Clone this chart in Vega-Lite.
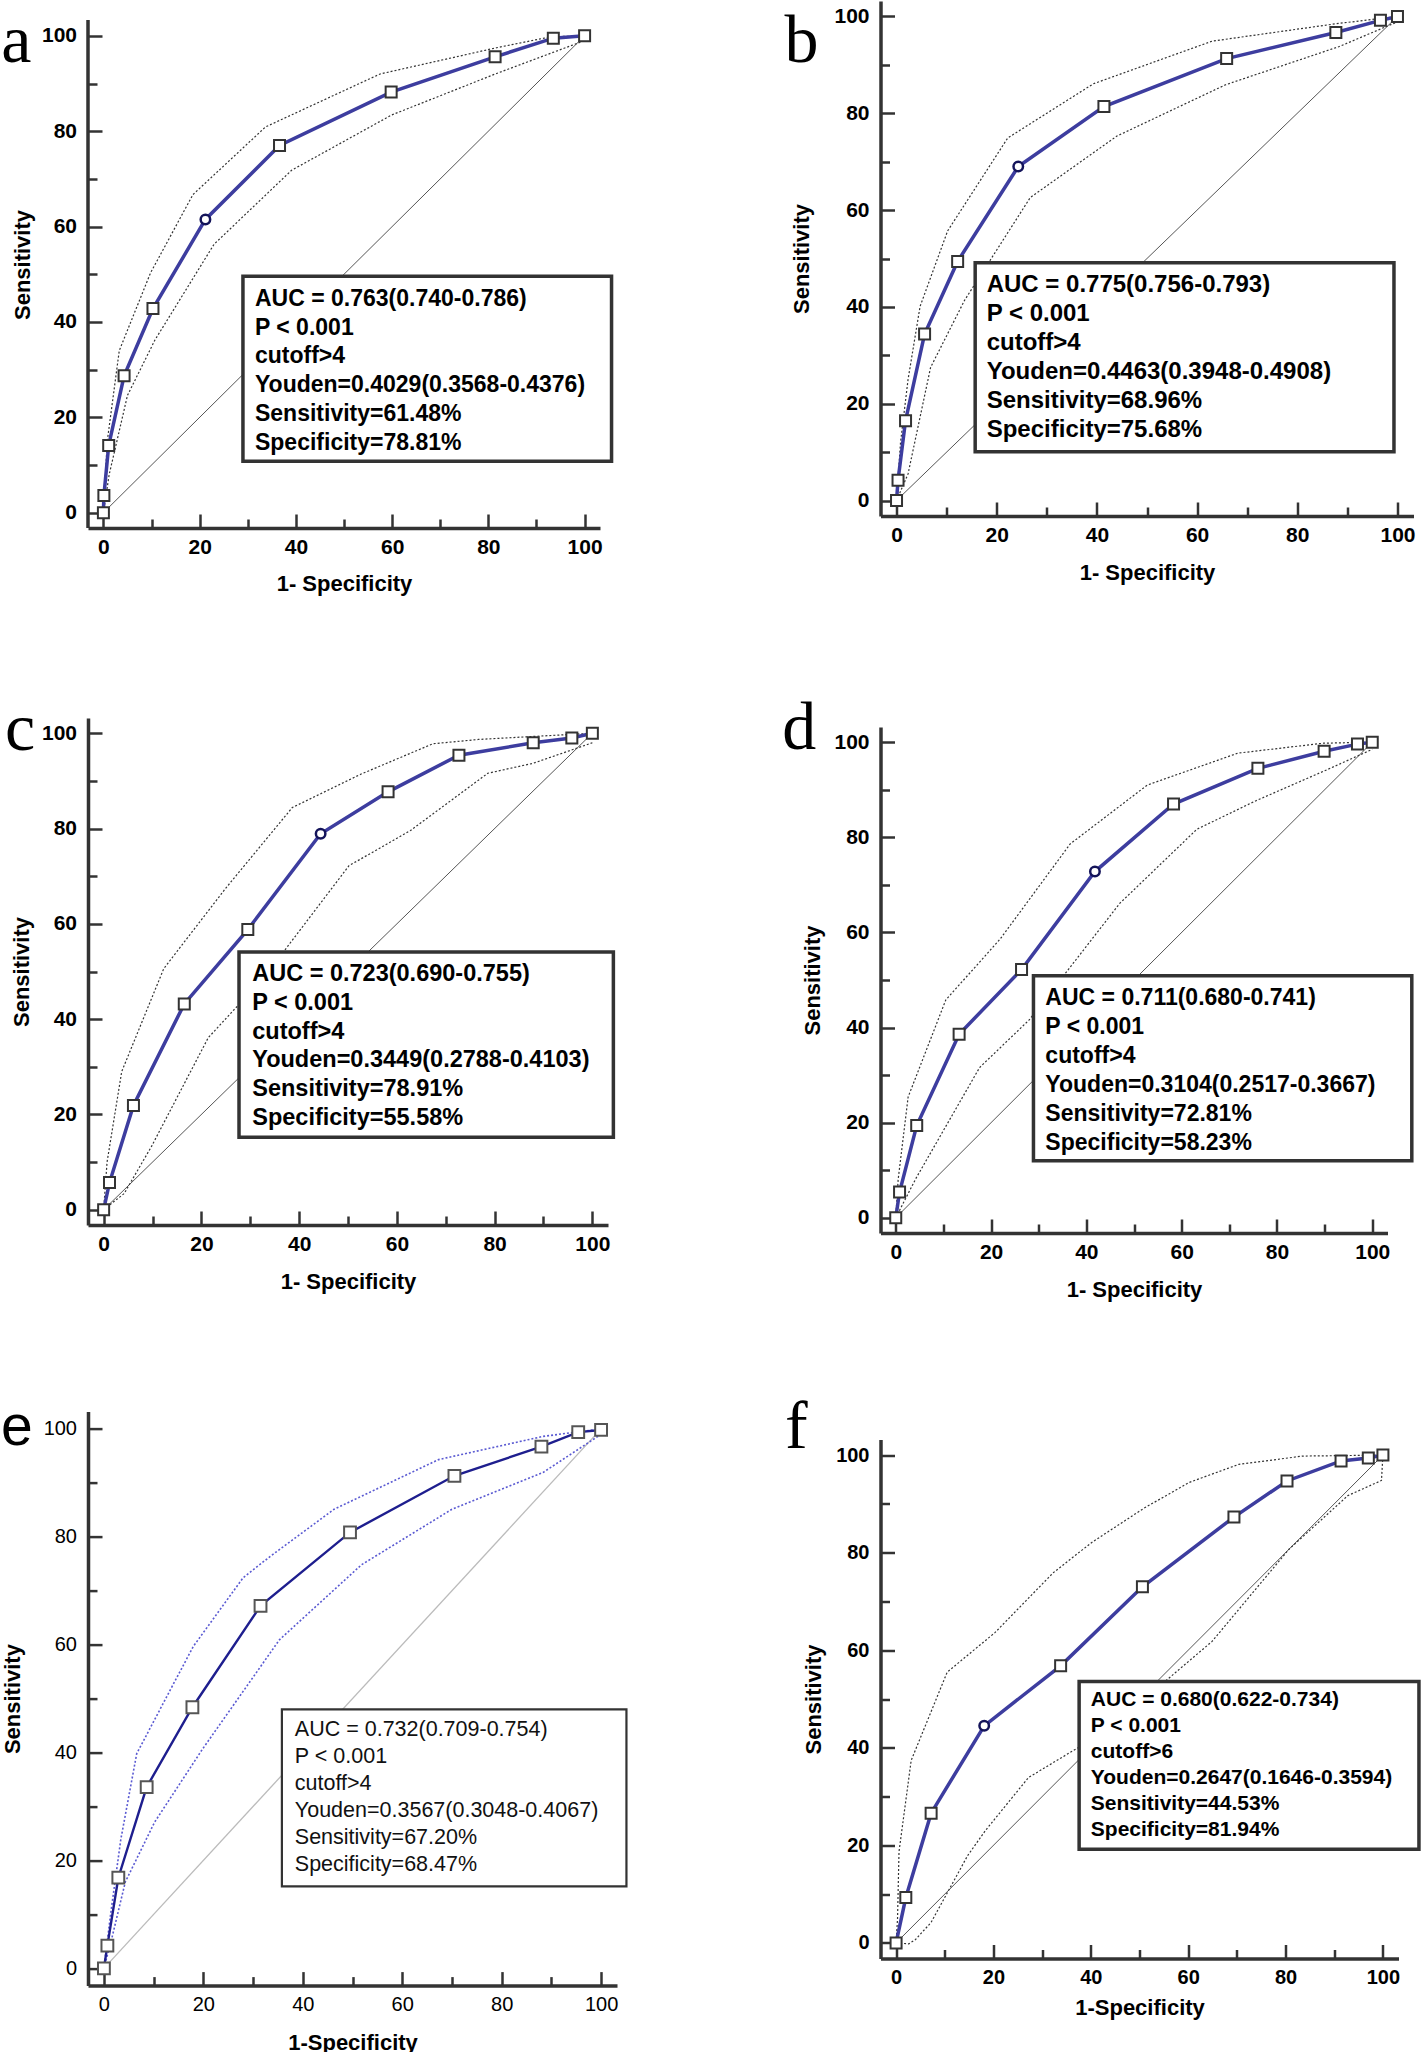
{
"$schema": "https://vega.github.io/schema/vega-lite/v6.json",
"background": "white",
"padding": {"left": 0, "top": 1, "right": 0, "bottom": 0},
"autosize": {"type": "pad"},
"config": {
  "view": {"stroke": null},
  "axis": {"grid": false, "domainColor": "#333", "domainWidth": 3.5, "tickColor": "#333", "tickWidth": 2.5, "labelColor": "#000", "titleColor": "#000", "labelFont": "Liberation Sans", "titleFont": "Liberation Sans", "labelFontWeight": "bold", "titleFontWeight": "bold", "labelFontSize": 21, "titleFontSize": 22},
  "axisX": {"labelPadding": 22.5, "titlePadding": 11.5},
  "axisY": {"labelPadding": 25.5, "titlePadding": 7}
},
"datasets": {
  "roc": [
    {"p":"a","s":"roc","x":0,"y":0},{"p":"a","s":"roc","x":0.1,"y":3.6},{"p":"a","s":"roc","x":1.1,"y":14.1},{"p":"a","s":"roc","x":4.3,"y":28.7},{"p":"a","s":"roc","x":10.3,"y":42.8},{"p":"a","s":"roc","x":21.2,"y":61.5,"c":1},{"p":"a","s":"roc","x":36.6,"y":77.0},{"p":"a","s":"roc","x":59.8,"y":88.2},{"p":"a","s":"roc","x":81.4,"y":95.6},{"p":"a","s":"roc","x":93.5,"y":99.5},{"p":"a","s":"roc","x":100,"y":100},
    {"p":"a","s":"upper","x":0,"y":0},{"p":"a","s":"upper","x":0.8,"y":15},{"p":"a","s":"upper","x":3.3,"y":34},{"p":"a","s":"upper","x":9.8,"y":50.3},{"p":"a","s":"upper","x":18.6,"y":66.7},{"p":"a","s":"upper","x":33.7,"y":80.9},{"p":"a","s":"upper","x":57.5,"y":92.0},{"p":"a","s":"upper","x":81.7,"y":97.5},{"p":"a","s":"upper","x":93,"y":99.8},{"p":"a","s":"upper","x":100,"y":100},
    {"p":"a","s":"lower","x":0,"y":0},{"p":"a","s":"lower","x":1.2,"y":8},{"p":"a","s":"lower","x":5,"y":24.6},{"p":"a","s":"lower","x":10.7,"y":36.2},{"p":"a","s":"lower","x":23,"y":56.3},{"p":"a","s":"lower","x":39.1,"y":71.8},{"p":"a","s":"lower","x":59.9,"y":83.4},{"p":"a","s":"lower","x":81.7,"y":92.1},{"p":"a","s":"lower","x":100,"y":99},
    {"p":"b","s":"roc","x":0,"y":0},{"p":"b","s":"roc","x":0.3,"y":4.2},{"p":"b","s":"roc","x":1.8,"y":16.5},{"p":"b","s":"roc","x":5.6,"y":34.4},{"p":"b","s":"roc","x":12.2,"y":49.4},{"p":"b","s":"roc","x":24.3,"y":69.0,"c":1},{"p":"b","s":"roc","x":41.4,"y":81.4},{"p":"b","s":"roc","x":65.9,"y":91.3},{"p":"b","s":"roc","x":87.7,"y":96.7},{"p":"b","s":"roc","x":96.6,"y":99.2},{"p":"b","s":"roc","x":100,"y":100},
    {"p":"b","s":"upper","x":0,"y":0},{"p":"b","s":"upper","x":0.8,"y":12},{"p":"b","s":"upper","x":2.3,"y":25},{"p":"b","s":"upper","x":4.7,"y":40.1},{"p":"b","s":"upper","x":10.2,"y":55.7},{"p":"b","s":"upper","x":22.2,"y":74.9},{"p":"b","s":"upper","x":39.3,"y":86.1},{"p":"b","s":"upper","x":63,"y":94.9},{"p":"b","s":"upper","x":87.7,"y":98.5},{"p":"b","s":"upper","x":100,"y":100},
    {"p":"b","s":"lower","x":0,"y":0},{"p":"b","s":"lower","x":2.3,"y":5.5},{"p":"b","s":"lower","x":6.8,"y":27.5},{"p":"b","s":"lower","x":13.6,"y":41.4},{"p":"b","s":"lower","x":26.7,"y":62.6},{"p":"b","s":"lower","x":44,"y":75.3},{"p":"b","s":"lower","x":65.7,"y":85.9},{"p":"b","s":"lower","x":88.4,"y":93.8},{"p":"b","s":"lower","x":100,"y":98.9},
    {"p":"c","s":"roc","x":0,"y":0},{"p":"c","s":"roc","x":1.2,"y":5.7},{"p":"c","s":"roc","x":6.1,"y":21.9},{"p":"c","s":"roc","x":16.5,"y":43.2},{"p":"c","s":"roc","x":29.5,"y":58.8},{"p":"c","s":"roc","x":44.4,"y":78.9,"c":1},{"p":"c","s":"roc","x":58.2,"y":87.7},{"p":"c","s":"roc","x":72.7,"y":95.4},{"p":"c","s":"roc","x":87.9,"y":98.0},{"p":"c","s":"roc","x":95.8,"y":99.0},{"p":"c","s":"roc","x":100,"y":100},
    {"p":"c","s":"upper","x":0,"y":0},{"p":"c","s":"upper","x":0.7,"y":10},{"p":"c","s":"upper","x":3.7,"y":29},{"p":"c","s":"upper","x":12.3,"y":50.6},{"p":"c","s":"upper","x":25,"y":67.5},{"p":"c","s":"upper","x":38.6,"y":84.4},{"p":"c","s":"upper","x":52.6,"y":91.4},{"p":"c","s":"upper","x":67.4,"y":97.8},{"p":"c","s":"upper","x":76.7,"y":98.7},{"p":"c","s":"upper","x":100,"y":100},
    {"p":"c","s":"lower","x":0,"y":0},{"p":"c","s":"lower","x":4.2,"y":3.4},{"p":"c","s":"lower","x":9.8,"y":13.3},{"p":"c","s":"lower","x":21.4,"y":36.1},{"p":"c","s":"lower","x":33,"y":49},{"p":"c","s":"lower","x":50.2,"y":72.2},{"p":"c","s":"lower","x":62.8,"y":79.6},{"p":"c","s":"lower","x":78.6,"y":91.6},{"p":"c","s":"lower","x":87.9,"y":93.7},{"p":"c","s":"lower","x":100,"y":98},
    {"p":"d","s":"roc","x":0,"y":0},{"p":"d","s":"roc","x":0.8,"y":5.4},{"p":"d","s":"roc","x":4.4,"y":19.4},{"p":"d","s":"roc","x":13.3,"y":38.6},{"p":"d","s":"roc","x":26.4,"y":52.2},{"p":"d","s":"roc","x":41.8,"y":72.8,"c":1},{"p":"d","s":"roc","x":58.3,"y":87.0},{"p":"d","s":"roc","x":76.0,"y":94.5},{"p":"d","s":"roc","x":89.9,"y":98.1},{"p":"d","s":"roc","x":96.9,"y":99.6},{"p":"d","s":"roc","x":100,"y":100},
    {"p":"d","s":"upper","x":0,"y":0},{"p":"d","s":"upper","x":0.5,"y":8},{"p":"d","s":"upper","x":2.6,"y":25.4},{"p":"d","s":"upper","x":10.5,"y":45.8},{"p":"d","s":"upper","x":21.9,"y":58.6},{"p":"d","s":"upper","x":36.6,"y":78.6},{"p":"d","s":"upper","x":52.8,"y":91},{"p":"d","s":"upper","x":71.8,"y":97.7},{"p":"d","s":"upper","x":89.8,"y":99.8},{"p":"d","s":"upper","x":100,"y":100},
    {"p":"d","s":"lower","x":0,"y":0},{"p":"d","s":"lower","x":4.3,"y":8.4},{"p":"d","s":"lower","x":17.6,"y":31.6},{"p":"d","s":"lower","x":28,"y":41.6},{"p":"d","s":"lower","x":47,"y":66.1},{"p":"d","s":"lower","x":63.2,"y":81.7},{"p":"d","s":"lower","x":75.6,"y":87.7},{"p":"d","s":"lower","x":89.8,"y":93.9},{"p":"d","s":"lower","x":100,"y":98.5},
    {"p":"e","s":"roc","x":0,"y":0},{"p":"e","s":"roc","x":0.7,"y":4.2},{"p":"e","s":"roc","x":2.9,"y":16.8},{"p":"e","s":"roc","x":8.6,"y":33.6},{"p":"e","s":"roc","x":17.8,"y":48.4},{"p":"e","s":"roc","x":31.5,"y":67.2},{"p":"e","s":"roc","x":49.5,"y":80.8},{"p":"e","s":"roc","x":70.5,"y":91.3},{"p":"e","s":"roc","x":88.0,"y":96.7},{"p":"e","s":"roc","x":95.4,"y":99.4},{"p":"e","s":"roc","x":100,"y":99.8},
    {"p":"e","s":"upper","x":0,"y":0},{"p":"e","s":"upper","x":1.4,"y":10.4},{"p":"e","s":"upper","x":3.4,"y":23.9},{"p":"e","s":"upper","x":6.6,"y":39.8},{"p":"e","s":"upper","x":13.4,"y":51.7},{"p":"e","s":"upper","x":18,"y":59.7},{"p":"e","s":"upper","x":28,"y":72.4},{"p":"e","s":"upper","x":33.5,"y":76.4},{"p":"e","s":"upper","x":46.3,"y":85.1},{"p":"e","s":"upper","x":67.3,"y":94.3},{"p":"e","s":"upper","x":88.3,"y":98.6},{"p":"e","s":"upper","x":100,"y":100},
    {"p":"e","s":"lower","x":0,"y":0},{"p":"e","s":"lower","x":1.6,"y":5.6},{"p":"e","s":"lower","x":4.3,"y":16},{"p":"e","s":"lower","x":10.2,"y":27.1},{"p":"e","s":"lower","x":19.8,"y":40.6},{"p":"e","s":"lower","x":35.3,"y":60.9},{"p":"e","s":"lower","x":51.8,"y":74.8},{"p":"e","s":"lower","x":70,"y":85.1},{"p":"e","s":"lower","x":88.3,"y":91.9},{"p":"e","s":"lower","x":100,"y":99},
    {"p":"f","s":"roc","x":0,"y":0},{"p":"f","s":"roc","x":2.0,"y":9.3},{"p":"f","s":"roc","x":7.2,"y":26.6},{"p":"f","s":"roc","x":18.1,"y":44.5,"c":1},{"p":"f","s":"roc","x":33.8,"y":56.8},{"p":"f","s":"roc","x":50.6,"y":73.0},{"p":"f","s":"roc","x":69.4,"y":87.3},{"p":"f","s":"roc","x":80.3,"y":94.7},{"p":"f","s":"roc","x":91.4,"y":98.8},{"p":"f","s":"roc","x":97.0,"y":99.4},{"p":"f","s":"roc","x":100,"y":100},
    {"p":"f","s":"upper","x":0,"y":0},{"p":"f","s":"upper","x":0.3,"y":5},{"p":"f","s":"upper","x":0.6,"y":18.7},{"p":"f","s":"upper","x":3.1,"y":37.4},{"p":"f","s":"upper","x":10.5,"y":55.5},{"p":"f","s":"upper","x":20.3,"y":63.6},{"p":"f","s":"upper","x":32.3,"y":75.9},{"p":"f","s":"upper","x":40.2,"y":82.1},{"p":"f","s":"upper","x":50.9,"y":89.1},{"p":"f","s":"upper","x":60.2,"y":94.4},{"p":"f","s":"upper","x":70.4,"y":98.1},{"p":"f","s":"upper","x":83.5,"y":99.8},{"p":"f","s":"upper","x":100,"y":100},
    {"p":"f","s":"lower","x":0,"y":0},{"p":"f","s":"lower","x":2.6,"y":-0.2},{"p":"f","s":"lower","x":4,"y":0.7},{"p":"f","s":"lower","x":7.2,"y":4.2},{"p":"f","s":"lower","x":14.7,"y":17.9},{"p":"f","s":"lower","x":18.4,"y":23.1},{"p":"f","s":"lower","x":27.2,"y":33.9},{"p":"f","s":"lower","x":37,"y":39.8},{"p":"f","s":"lower","x":46.3,"y":45.1},{"p":"f","s":"lower","x":55.6,"y":53.9},{"p":"f","s":"lower","x":64.9,"y":61.8},{"p":"f","s":"lower","x":80.7,"y":80.7},{"p":"f","s":"lower","x":92.8,"y":91.7},{"p":"f","s":"lower","x":99.7,"y":94.8},{"p":"f","s":"lower","x":100,"y":100}
  ]
},
"hconcat": [
 {"spacing": 101, "vconcat": [
  {"width": 512, "height": 527, "layer": [
    {"data":{"values":[{}]},"mark":{"type":"rule","color":"#555","strokeWidth":1},"encoding":{"x":{"datum":0,"type":"quantitative","scale":{"domain":[-3.2,103.2],"nice":false,"zero":false}},"y":{"datum":0,"type":"quantitative","scale":{"domain":[-3.2,107.3],"nice":false,"zero":false}},"x2":{"datum":100},"y2":{"datum":100}}},
    {"data":{"values":[{}]},"mark":{"type":"rule","color":"#333","strokeWidth":3.5},"encoding":{"x":{"datum":-3.2,"type":"quantitative","scale":{"domain":[-3.2,103.2],"nice":false,"zero":false}},"y":{"datum":-3.2,"type":"quantitative","scale":{"domain":[-3.2,107.3],"nice":false,"zero":false}},"y2":{"datum":103.3}}},
    {"data":{"name":"roc"},"transform":[{"filter":"datum.p==='a' && datum.s!=='roc'"}],"mark":{"type":"line","color":"#333","strokeWidth":1.2,"strokeDash":[2,2]},"encoding":{"x":{"field":"x","type":"quantitative","scale":{"domain":[-3.2,103.2],"nice":false,"zero":false},"axis":{"title":"1- Specificity","titlePadding":10.5,"values":[0,5,10,15,20,25,30,35,40,45,50,55,60,65,70,75,80,85,90,95,100],"labelExpr":"datum.value % 20 === 0 ? datum.label : ''","tickSize":{"condition":{"test":"datum.value % 20 === 0","value":-14},"value":-9},"labelOverlap":false,"labelFlush":false}},"y":{"field":"y","type":"quantitative","scale":{"domain":[-3.2,107.3],"nice":false,"zero":false},"axis":{"title":"Sensitivity","titlePadding":6.5,"domain":false,"values":[0,5,10,15,20,25,30,35,40,45,50,55,60,65,70,75,80,85,90,95,100],"labelExpr":"datum.value % 20 === 0 ? datum.label : ''","tickSize":{"condition":{"test":"datum.value % 20 === 0","value":-14},"value":-9},"labelOverlap":false,"labelFlush":false}},"detail":{"field":"s"}}},
    {"data":{"name":"roc"},"transform":[{"filter":"datum.p==='a' && datum.s==='roc'"}],"mark":{"type":"line","color":"#3d3d9f","strokeWidth":3.5},"encoding":{"x":{"field":"x","type":"quantitative","scale":{"domain":[-3.2,103.2],"nice":false,"zero":false}},"y":{"field":"y","type":"quantitative","scale":{"domain":[-3.2,107.3],"nice":false,"zero":false}}}},
    {"data":{"name":"roc"},"transform":[{"filter":"datum.p==='a' && datum.s==='roc' && !datum.c"}],"mark":{"type":"point","shape":"square","size":121,"filled":true,"fill":"white","stroke":"#333","strokeWidth":2,"opacity":1},"encoding":{"x":{"field":"x","type":"quantitative","scale":{"domain":[-3.2,103.2],"nice":false,"zero":false}},"y":{"field":"y","type":"quantitative","scale":{"domain":[-3.2,107.3],"nice":false,"zero":false}}}},
    {"data":{"name":"roc"},"transform":[{"filter":"datum.p==='a' && datum.c===1"}],"mark":{"type":"point","shape":"circle","size":90,"filled":true,"fill":"white","stroke":"#14145a","strokeWidth":2.5,"opacity":1},"encoding":{"x":{"field":"x","type":"quantitative","scale":{"domain":[-3.2,103.2],"nice":false,"zero":false}},"y":{"field":"y","type":"quantitative","scale":{"domain":[-3.2,107.3],"nice":false,"zero":false}}}},
    {"data":{"values":[{}]},"mark":{"type":"rect","fill":"white","stroke":"#333","strokeWidth":3.5},"encoding":{"x":{"datum":29.0,"type":"quantitative","scale":{"domain":[-3.2,103.2],"nice":false,"zero":false}},"x2":{"datum":105.6},"y":{"datum":49.6,"type":"quantitative","scale":{"domain":[-3.2,107.3],"nice":false,"zero":false}},"y2":{"datum":10.8}}},
    {"data":{"values":[{}]},"mark":{"type":"text","align":"left","baseline":"alphabetic","font":"Liberation Sans","fontWeight":"bold","fontSize":23,"lineHeight":28.8,"color":"#000"},"encoding":{"x":{"datum":31.5,"type":"quantitative","scale":{"domain":[-3.2,103.2],"nice":false,"zero":false}},"y":{"datum":43.4,"type":"quantitative","scale":{"domain":[-3.2,107.3],"nice":false,"zero":false}},"text":{"value":["AUC = 0.763(0.740-0.786)","P < 0.001","cutoff>4","Youden=0.4029(0.3568-0.4376)","Sensitivity=61.48%","Specificity=78.81%"]}}},
    {"data":{"values":[{}]},"mark":{"type":"text","align":"left","baseline":"alphabetic","font":"Liberation Serif","fontSize":68,"color":"#000"},"encoding":{"x":{"datum":-21.25,"type":"quantitative","scale":{"domain":[-3.2,103.2],"nice":false,"zero":false}},"y":{"datum":94.5,"type":"quantitative","scale":{"domain":[-3.2,107.3],"nice":false,"zero":false}},"text":{"value":"a"}}}
  ]},
  {"spacing": 106.6, "vconcat": [
   {"width": 520, "height": 507, "layer": [
    {"data":{"values":[{}]},"mark":{"type":"rule","color":"#555","strokeWidth":1},"encoding":{"x":{"datum":0,"type":"quantitative","scale":{"domain":[-3.2,103.2],"nice":false,"zero":false}},"y":{"datum":0,"type":"quantitative","scale":{"domain":[-3.2,103.2],"nice":false,"zero":false}},"x2":{"datum":100},"y2":{"datum":100}}},
    {"data":{"name":"roc"},"transform":[{"filter":"datum.p==='c' && datum.s!=='roc'"}],"mark":{"type":"line","color":"#333","strokeWidth":1.2,"strokeDash":[2,2]},"encoding":{"x":{"field":"x","type":"quantitative","scale":{"domain":[-3.2,103.2],"nice":false,"zero":false},"axis":{"title":"1- Specificity","values":[0,5,10,15,20,25,30,35,40,45,50,55,60,65,70,75,80,85,90,95,100],"labelExpr":"datum.value % 20 === 0 ? datum.label : ''","tickSize":{"condition":{"test":"datum.value % 20 === 0","value":-14},"value":-9},"labelOverlap":false,"labelFlush":false}},"y":{"field":"y","type":"quantitative","scale":{"domain":[-3.2,103.2],"nice":false,"zero":false},"axis":{"title":"Sensitivity","titlePadding":7.5,"values":[0,5,10,15,20,25,30,35,40,45,50,55,60,65,70,75,80,85,90,95,100],"labelExpr":"datum.value % 20 === 0 ? datum.label : ''","tickSize":{"condition":{"test":"datum.value % 20 === 0","value":-14},"value":-9},"labelOverlap":false,"labelFlush":false}},"detail":{"field":"s"}}},
    {"data":{"name":"roc"},"transform":[{"filter":"datum.p==='c' && datum.s==='roc'"}],"mark":{"type":"line","color":"#3d3d9f","strokeWidth":3.5},"encoding":{"x":{"field":"x","type":"quantitative","scale":{"domain":[-3.2,103.2],"nice":false,"zero":false}},"y":{"field":"y","type":"quantitative","scale":{"domain":[-3.2,103.2],"nice":false,"zero":false}}}},
    {"data":{"name":"roc"},"transform":[{"filter":"datum.p==='c' && datum.s==='roc' && !datum.c"}],"mark":{"type":"point","shape":"square","size":121,"filled":true,"fill":"white","stroke":"#333","strokeWidth":2,"opacity":1},"encoding":{"x":{"field":"x","type":"quantitative","scale":{"domain":[-3.2,103.2],"nice":false,"zero":false}},"y":{"field":"y","type":"quantitative","scale":{"domain":[-3.2,103.2],"nice":false,"zero":false}}}},
    {"data":{"name":"roc"},"transform":[{"filter":"datum.p==='c' && datum.c===1"}],"mark":{"type":"point","shape":"circle","size":90,"filled":true,"fill":"white","stroke":"#14145a","strokeWidth":2.5,"opacity":1},"encoding":{"x":{"field":"x","type":"quantitative","scale":{"domain":[-3.2,103.2],"nice":false,"zero":false}},"y":{"field":"y","type":"quantitative","scale":{"domain":[-3.2,103.2],"nice":false,"zero":false}}}},
    {"data":{"values":[{}]},"mark":{"type":"rect","fill":"white","stroke":"#333","strokeWidth":3.5},"encoding":{"x":{"datum":27.7,"type":"quantitative","scale":{"domain":[-3.2,103.2],"nice":false,"zero":false}},"x2":{"datum":104.3},"y":{"datum":54.1,"type":"quantitative","scale":{"domain":[-3.2,103.2],"nice":false,"zero":false}},"y2":{"datum":15.2}}},
    {"data":{"values":[{}]},"mark":{"type":"text","align":"left","baseline":"alphabetic","font":"Liberation Sans","fontWeight":"bold","fontSize":23.5,"lineHeight":28.8,"color":"#000"},"encoding":{"x":{"datum":30.4,"type":"quantitative","scale":{"domain":[-3.2,103.2],"nice":false,"zero":false}},"y":{"datum":48.0,"type":"quantitative","scale":{"domain":[-3.2,103.2],"nice":false,"zero":false}},"text":{"value":["AUC = 0.723(0.690-0.755)","P < 0.001","cutoff>4","Youden=0.3449(0.2788-0.4103)","Sensitivity=78.91%","Specificity=55.58%"]}}},
    {"data":{"values":[{}]},"mark":{"type":"text","align":"left","baseline":"alphabetic","font":"Liberation Serif","fontSize":68,"color":"#000"},"encoding":{"x":{"datum":-20.2,"type":"quantitative","scale":{"domain":[-3.2,103.2],"nice":false,"zero":false}},"y":{"datum":96.5,"type":"quantitative","scale":{"domain":[-3.2,103.2],"nice":false,"zero":false}},"text":{"value":"c"}}}
   ]},
   {"width": 529, "height": 574, "layer": [
    {"data":{"values":[{}]},"mark":{"type":"rule","color":"#bbbbbb","strokeWidth":1.3},"encoding":{"x":{"datum":0,"type":"quantitative","scale":{"domain":[-3.2,103.2],"nice":false,"zero":false}},"y":{"datum":0,"type":"quantitative","scale":{"domain":[-3.2,103.2],"nice":false,"zero":false}},"x2":{"datum":100},"y2":{"datum":100}}},
    {"data":{"name":"roc"},"transform":[{"filter":"datum.p==='e' && datum.s!=='roc'"}],"mark":{"type":"line","color":"#5a5ad2","strokeWidth":1.6,"strokeDash":[2,2]},"encoding":{"x":{"field":"x","type":"quantitative","scale":{"domain":[-3.2,103.2],"nice":false,"zero":false},"axis":{"title":"1-Specificity","titlePadding":13,"labelFontWeight":"normal","labelFontSize":20,"values":[0,5,10,15,20,25,30,35,40,45,50,55,60,65,70,75,80,85,90,95,100],"labelExpr":"datum.value % 20 === 0 ? datum.label : ''","tickSize":{"condition":{"test":"datum.value % 20 === 0","value":-14},"value":-9},"labelOverlap":false,"labelFlush":false}},"y":{"field":"y","type":"quantitative","scale":{"domain":[-3.2,103.2],"nice":false,"zero":false},"axis":{"title":"Sensitivity","titlePadding":19,"labelFontWeight":"normal","labelFontSize":20,"values":[0,5,10,15,20,25,30,35,40,45,50,55,60,65,70,75,80,85,90,95,100],"labelExpr":"datum.value % 20 === 0 ? datum.label : ''","tickSize":{"condition":{"test":"datum.value % 20 === 0","value":-14},"value":-9},"labelOverlap":false,"labelFlush":false}},"detail":{"field":"s"}}},
    {"data":{"name":"roc"},"transform":[{"filter":"datum.p==='e' && datum.s==='roc'"}],"mark":{"type":"line","color":"#1e1e8e","strokeWidth":2.4},"encoding":{"x":{"field":"x","type":"quantitative","scale":{"domain":[-3.2,103.2],"nice":false,"zero":false}},"y":{"field":"y","type":"quantitative","scale":{"domain":[-3.2,103.2],"nice":false,"zero":false}}}},
    {"data":{"name":"roc"},"transform":[{"filter":"datum.p==='e' && datum.s==='roc'"}],"mark":{"type":"point","shape":"square","size":140,"filled":true,"fill":"white","stroke":"#555","strokeWidth":2,"opacity":1},"encoding":{"x":{"field":"x","type":"quantitative","scale":{"domain":[-3.2,103.2],"nice":false,"zero":false}},"y":{"field":"y","type":"quantitative","scale":{"domain":[-3.2,103.2],"nice":false,"zero":false}}}},
    {"data":{"values":[{}]},"mark":{"type":"rect","fill":"white","stroke":"#333","strokeWidth":2.2},"encoding":{"x":{"datum":35.8,"type":"quantitative","scale":{"domain":[-3.2,103.2],"nice":false,"zero":false}},"x2":{"datum":105.1},"y":{"datum":48.0,"type":"quantitative","scale":{"domain":[-3.2,103.2],"nice":false,"zero":false}},"y2":{"datum":15.2}}},
    {"data":{"values":[{}]},"mark":{"type":"text","align":"left","baseline":"alphabetic","font":"Liberation Sans","fontWeight":"normal","fontSize":21.5,"lineHeight":27,"color":"#111"},"encoding":{"x":{"datum":38.4,"type":"quantitative","scale":{"domain":[-3.2,103.2],"nice":false,"zero":false}},"y":{"datum":43.0,"type":"quantitative","scale":{"domain":[-3.2,103.2],"nice":false,"zero":false}},"text":{"value":["AUC = 0.732(0.709-0.754)","P < 0.001","cutoff>4","Youden=0.3567(0.3048-0.4067)","Sensitivity=67.20%","Specificity=68.47%"]}}},
    {"data":{"values":[{}]},"mark":{"type":"text","align":"left","baseline":"alphabetic","font":"Liberation Sans","fontSize":57,"color":"#000"},"encoding":{"x":{"datum":-20.7,"type":"quantitative","scale":{"domain":[-3.2,103.2],"nice":false,"zero":false}},"y":{"datum":97.0,"type":"quantitative","scale":{"domain":[-3.2,103.2],"nice":false,"zero":false}},"text":{"value":"e"}}}
   ]}
  ]}
 ]},
 {"spacing": 111, "vconcat": [
  {"width": 533, "height": 515, "layer": [
    {"data":{"values":[{}]},"mark":{"type":"rule","color":"#555","strokeWidth":1},"encoding":{"x":{"datum":0,"type":"quantitative","scale":{"domain":[-3.2,103.2],"nice":false,"zero":false}},"y":{"datum":0,"type":"quantitative","scale":{"domain":[-3.2,103.2],"nice":false,"zero":false}},"x2":{"datum":100},"y2":{"datum":100}}},
    {"data":{"name":"roc"},"transform":[{"filter":"datum.p==='b' && datum.s!=='roc'"}],"mark":{"type":"line","color":"#333","strokeWidth":1.2,"strokeDash":[2,2]},"encoding":{"x":{"field":"x","type":"quantitative","scale":{"domain":[-3.2,103.2],"nice":false,"zero":false},"axis":{"title":"1- Specificity","values":[0,5,10,15,20,25,30,35,40,45,50,55,60,65,70,75,80,85,90,95,100],"labelExpr":"datum.value % 20 === 0 ? datum.label : ''","tickSize":{"condition":{"test":"datum.value % 20 === 0","value":-14},"value":-9},"labelOverlap":false,"labelFlush":false}},"y":{"field":"y","type":"quantitative","scale":{"domain":[-3.2,103.2],"nice":false,"zero":false},"axis":{"title":"Sensitivity","titlePadding":20.5,"values":[0,5,10,15,20,25,30,35,40,45,50,55,60,65,70,75,80,85,90,95,100],"labelExpr":"datum.value % 20 === 0 ? datum.label : ''","tickSize":{"condition":{"test":"datum.value % 20 === 0","value":-14},"value":-9},"labelOverlap":false,"labelFlush":false}},"detail":{"field":"s"}}},
    {"data":{"name":"roc"},"transform":[{"filter":"datum.p==='b' && datum.s==='roc'"}],"mark":{"type":"line","color":"#3d3d9f","strokeWidth":3.5},"encoding":{"x":{"field":"x","type":"quantitative","scale":{"domain":[-3.2,103.2],"nice":false,"zero":false}},"y":{"field":"y","type":"quantitative","scale":{"domain":[-3.2,103.2],"nice":false,"zero":false}}}},
    {"data":{"name":"roc"},"transform":[{"filter":"datum.p==='b' && datum.s==='roc' && !datum.c"}],"mark":{"type":"point","shape":"square","size":121,"filled":true,"fill":"white","stroke":"#333","strokeWidth":2,"opacity":1},"encoding":{"x":{"field":"x","type":"quantitative","scale":{"domain":[-3.2,103.2],"nice":false,"zero":false}},"y":{"field":"y","type":"quantitative","scale":{"domain":[-3.2,103.2],"nice":false,"zero":false}}}},
    {"data":{"name":"roc"},"transform":[{"filter":"datum.p==='b' && datum.c===1"}],"mark":{"type":"point","shape":"circle","size":90,"filled":true,"fill":"white","stroke":"#14145a","strokeWidth":2.5,"opacity":1},"encoding":{"x":{"field":"x","type":"quantitative","scale":{"domain":[-3.2,103.2],"nice":false,"zero":false}},"y":{"field":"y","type":"quantitative","scale":{"domain":[-3.2,103.2],"nice":false,"zero":false}}}},
    {"data":{"values":[{}]},"mark":{"type":"rect","fill":"white","stroke":"#333","strokeWidth":3.5},"encoding":{"x":{"datum":15.7,"type":"quantitative","scale":{"domain":[-3.2,103.2],"nice":false,"zero":false}},"x2":{"datum":99.3},"y":{"datum":49.1,"type":"quantitative","scale":{"domain":[-3.2,103.2],"nice":false,"zero":false}},"y2":{"datum":10.1}}},
    {"data":{"values":[{}]},"mark":{"type":"text","align":"left","baseline":"alphabetic","font":"Liberation Sans","fontWeight":"bold","fontSize":24,"lineHeight":29,"color":"#000"},"encoding":{"x":{"datum":18.0,"type":"quantitative","scale":{"domain":[-3.2,103.2],"nice":false,"zero":false}},"y":{"datum":43.0,"type":"quantitative","scale":{"domain":[-3.2,103.2],"nice":false,"zero":false}},"text":{"value":["AUC = 0.775(0.756-0.793)","P < 0.001","cutoff>4","Youden=0.4463(0.3948-0.4908)","Sensitivity=68.96%","Specificity=75.68%"]}}},
    {"data":{"values":[{}]},"mark":{"type":"text","align":"left","baseline":"alphabetic","font":"Liberation Serif","fontSize":68,"color":"#000"},"encoding":{"x":{"datum":-22.35,"type":"quantitative","scale":{"domain":[-3.2,103.2],"nice":false,"zero":false}},"y":{"datum":90.5,"type":"quantitative","scale":{"domain":[-3.2,103.2],"nice":false,"zero":false}},"text":{"value":"b"}}}
  ]},
  {"spacing": 93.5, "vconcat": [
   {"width": 507, "height": 506, "layer": [
    {"data":{"values":[{}]},"mark":{"type":"rule","color":"#555","strokeWidth":1},"encoding":{"x":{"datum":0,"type":"quantitative","scale":{"domain":[-3.2,103.2],"nice":false,"zero":false}},"y":{"datum":0,"type":"quantitative","scale":{"domain":[-3.2,103.2],"nice":false,"zero":false}},"x2":{"datum":100},"y2":{"datum":100}}},
    {"data":{"name":"roc"},"transform":[{"filter":"datum.p==='d' && datum.s!=='roc'"}],"mark":{"type":"line","color":"#333","strokeWidth":1.2,"strokeDash":[2,2]},"encoding":{"x":{"field":"x","type":"quantitative","scale":{"domain":[-3.2,103.2],"nice":false,"zero":false},"axis":{"title":"1- Specificity","values":[0,5,10,15,20,25,30,35,40,45,50,55,60,65,70,75,80,85,90,95,100],"labelExpr":"datum.value % 20 === 0 ? datum.label : ''","tickSize":{"condition":{"test":"datum.value % 20 === 0","value":-14},"value":-9},"labelOverlap":false,"labelFlush":false}},"y":{"field":"y","type":"quantitative","scale":{"domain":[-3.2,103.2],"nice":false,"zero":false},"axis":{"title":"Sensitivity","titlePadding":9,"values":[0,5,10,15,20,25,30,35,40,45,50,55,60,65,70,75,80,85,90,95,100],"labelExpr":"datum.value % 20 === 0 ? datum.label : ''","tickSize":{"condition":{"test":"datum.value % 20 === 0","value":-14},"value":-9},"labelOverlap":false,"labelFlush":false}},"detail":{"field":"s"}}},
    {"data":{"name":"roc"},"transform":[{"filter":"datum.p==='d' && datum.s==='roc'"}],"mark":{"type":"line","color":"#3d3d9f","strokeWidth":3.5},"encoding":{"x":{"field":"x","type":"quantitative","scale":{"domain":[-3.2,103.2],"nice":false,"zero":false}},"y":{"field":"y","type":"quantitative","scale":{"domain":[-3.2,103.2],"nice":false,"zero":false}}}},
    {"data":{"name":"roc"},"transform":[{"filter":"datum.p==='d' && datum.s==='roc' && !datum.c"}],"mark":{"type":"point","shape":"square","size":121,"filled":true,"fill":"white","stroke":"#333","strokeWidth":2,"opacity":1},"encoding":{"x":{"field":"x","type":"quantitative","scale":{"domain":[-3.2,103.2],"nice":false,"zero":false}},"y":{"field":"y","type":"quantitative","scale":{"domain":[-3.2,103.2],"nice":false,"zero":false}}}},
    {"data":{"name":"roc"},"transform":[{"filter":"datum.p==='d' && datum.c===1"}],"mark":{"type":"point","shape":"circle","size":90,"filled":true,"fill":"white","stroke":"#14145a","strokeWidth":2.5,"opacity":1},"encoding":{"x":{"field":"x","type":"quantitative","scale":{"domain":[-3.2,103.2],"nice":false,"zero":false}},"y":{"field":"y","type":"quantitative","scale":{"domain":[-3.2,103.2],"nice":false,"zero":false}}}},
    {"data":{"values":[{}]},"mark":{"type":"rect","fill":"white","stroke":"#333","strokeWidth":3.5},"encoding":{"x":{"datum":28.9,"type":"quantitative","scale":{"domain":[-3.2,103.2],"nice":false,"zero":false}},"x2":{"datum":108.3},"y":{"datum":50.9,"type":"quantitative","scale":{"domain":[-3.2,103.2],"nice":false,"zero":false}},"y2":{"datum":12.0}}},
    {"data":{"values":[{}]},"mark":{"type":"text","align":"left","baseline":"alphabetic","font":"Liberation Sans","fontWeight":"bold","fontSize":23,"lineHeight":29,"color":"#000"},"encoding":{"x":{"datum":31.4,"type":"quantitative","scale":{"domain":[-3.2,103.2],"nice":false,"zero":false}},"y":{"datum":44.8,"type":"quantitative","scale":{"domain":[-3.2,103.2],"nice":false,"zero":false}},"text":{"value":["AUC = 0.711(0.680-0.741)","P < 0.001","cutoff>4","Youden=0.3104(0.2517-0.3667)","Sensitivity=72.81%","Specificity=58.23%"]}}},
    {"data":{"values":[{}]},"mark":{"type":"text","align":"left","baseline":"alphabetic","font":"Liberation Serif","fontSize":68,"color":"#000"},"encoding":{"x":{"datum":-23.8,"type":"quantitative","scale":{"domain":[-3.2,103.2],"nice":false,"zero":false}},"y":{"datum":98.6,"type":"quantitative","scale":{"domain":[-3.2,103.2],"nice":false,"zero":false}},"text":{"value":"d"}}}
   ]},
   {"width": 518, "height": 519, "layer": [
    {"data":{"values":[{}]},"mark":{"type":"rule","color":"#555","strokeWidth":1},"encoding":{"x":{"datum":0,"type":"quantitative","scale":{"domain":[-3.2,103.2],"nice":false,"zero":false}},"y":{"datum":0,"type":"quantitative","scale":{"domain":[-3.2,103.2],"nice":false,"zero":false}},"x2":{"datum":100},"y2":{"datum":100}}},
    {"data":{"name":"roc"},"transform":[{"filter":"datum.p==='f' && datum.s!=='roc'"}],"mark":{"type":"line","color":"#333","strokeWidth":1.2,"strokeDash":[2,2]},"encoding":{"x":{"field":"x","type":"quantitative","scale":{"domain":[-3.2,103.2],"nice":false,"zero":false},"axis":{"title":"1-Specificity","titlePadding":5,"labelFontSize":20,"values":[0,5,10,15,20,25,30,35,40,45,50,55,60,65,70,75,80,85,90,95,100],"labelExpr":"datum.value % 20 === 0 ? datum.label : ''","tickSize":{"condition":{"test":"datum.value % 20 === 0","value":-14},"value":-9},"labelOverlap":false,"labelFlush":false}},"y":{"field":"y","type":"quantitative","scale":{"domain":[-3.2,103.2],"nice":false,"zero":false},"axis":{"title":"Sensitivity","titlePadding":10,"labelFontSize":20,"values":[0,5,10,15,20,25,30,35,40,45,50,55,60,65,70,75,80,85,90,95,100],"labelExpr":"datum.value % 20 === 0 ? datum.label : ''","tickSize":{"condition":{"test":"datum.value % 20 === 0","value":-14},"value":-9},"labelOverlap":false,"labelFlush":false}},"detail":{"field":"s"}}},
    {"data":{"name":"roc"},"transform":[{"filter":"datum.p==='f' && datum.s==='roc'"}],"mark":{"type":"line","color":"#3d3d9f","strokeWidth":3.5},"encoding":{"x":{"field":"x","type":"quantitative","scale":{"domain":[-3.2,103.2],"nice":false,"zero":false}},"y":{"field":"y","type":"quantitative","scale":{"domain":[-3.2,103.2],"nice":false,"zero":false}}}},
    {"data":{"name":"roc"},"transform":[{"filter":"datum.p==='f' && datum.s==='roc' && !datum.c"}],"mark":{"type":"point","shape":"square","size":121,"filled":true,"fill":"white","stroke":"#333","strokeWidth":2,"opacity":1},"encoding":{"x":{"field":"x","type":"quantitative","scale":{"domain":[-3.2,103.2],"nice":false,"zero":false}},"y":{"field":"y","type":"quantitative","scale":{"domain":[-3.2,103.2],"nice":false,"zero":false}}}},
    {"data":{"name":"roc"},"transform":[{"filter":"datum.p==='f' && datum.c===1"}],"mark":{"type":"point","shape":"circle","size":90,"filled":true,"fill":"white","stroke":"#14145a","strokeWidth":2.5,"opacity":1},"encoding":{"x":{"field":"x","type":"quantitative","scale":{"domain":[-3.2,103.2],"nice":false,"zero":false}},"y":{"field":"y","type":"quantitative","scale":{"domain":[-3.2,103.2],"nice":false,"zero":false}}}},
    {"data":{"values":[{}]},"mark":{"type":"rect","fill":"white","stroke":"#333","strokeWidth":3.5},"encoding":{"x":{"datum":37.6,"type":"quantitative","scale":{"domain":[-3.2,103.2],"nice":false,"zero":false}},"x2":{"datum":107.4},"y":{"datum":53.6,"type":"quantitative","scale":{"domain":[-3.2,103.2],"nice":false,"zero":false}},"y2":{"datum":19.2}}},
    {"data":{"values":[{}]},"mark":{"type":"text","align":"left","baseline":"alphabetic","font":"Liberation Sans","fontWeight":"bold","fontSize":21,"lineHeight":26,"color":"#000"},"encoding":{"x":{"datum":40.0,"type":"quantitative","scale":{"domain":[-3.2,103.2],"nice":false,"zero":false}},"y":{"datum":48.5,"type":"quantitative","scale":{"domain":[-3.2,103.2],"nice":false,"zero":false}},"text":{"value":["AUC = 0.680(0.622-0.734)","P < 0.001","cutoff>6","Youden=0.2647(0.1646-0.3594)","Sensitivity=44.53%","Specificity=81.94%"]}}},
    {"data":{"values":[{}]},"mark":{"type":"text","align":"left","baseline":"alphabetic","font":"Liberation Serif","fontSize":68,"color":"#000"},"encoding":{"x":{"datum":-22.8,"type":"quantitative","scale":{"domain":[-3.2,103.2],"nice":false,"zero":false}},"y":{"datum":101.5,"type":"quantitative","scale":{"domain":[-3.2,103.2],"nice":false,"zero":false}},"text":{"value":"f"}}}
   ]}
  ]}
 ]}
],
"spacing": 153.5
}
